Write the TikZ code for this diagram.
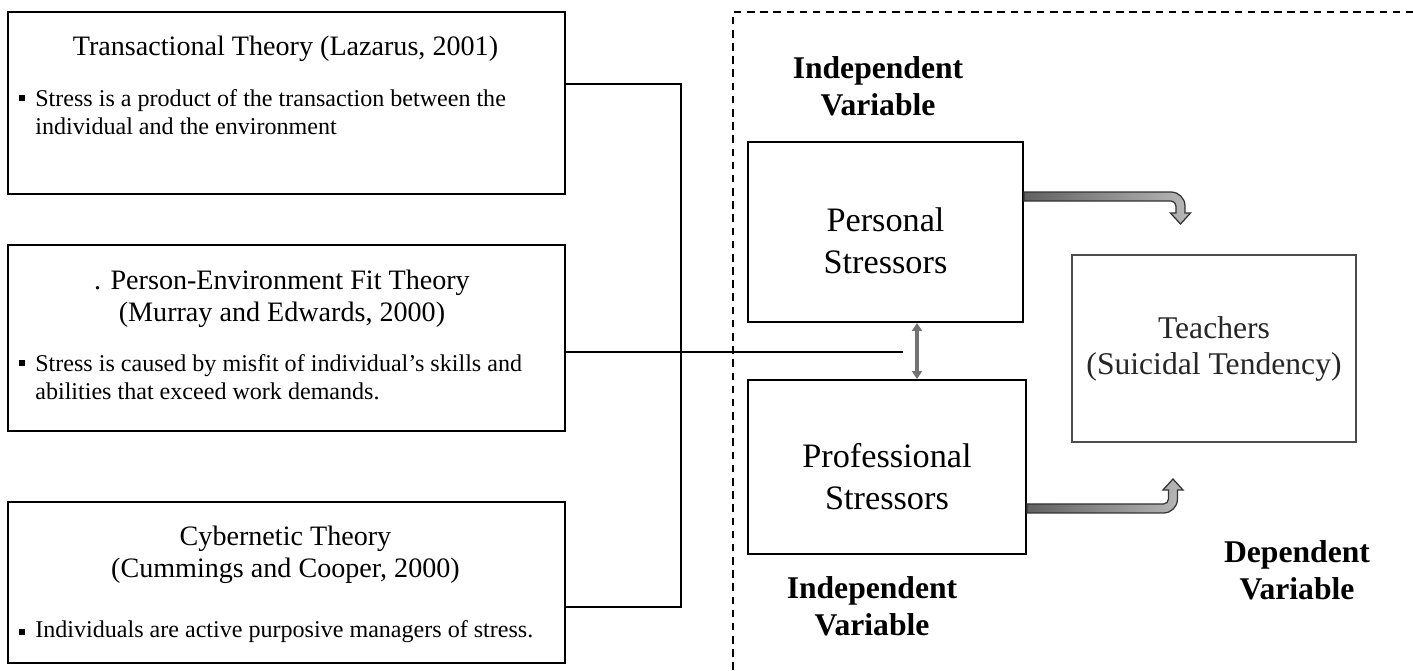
\documentclass[tikz,border=0pt]{standalone}
\usepackage{fontspec}
\setmainfont{Liberation Serif}
\usetikzlibrary{positioning, calc, arrows.meta}

\begin{document}
\begin{tikzpicture}[
        x=0.02cm, y=-0.02cm,
        every node/.style={align=center, inner sep=0pt},
        theory/.style={draw, line width=0.04cm, minimum width=11.14cm, anchor=north west},
        thead/.style={font=\fontsize{16}{18.2}\selectfont},
        tbody/.style={font=\fontsize{13.7}{15.9}\selectfont, align=left, anchor=west},
        sq/.style={fill=black, minimum size=0.12cm},
        stress/.style={draw, line width=0.04cm},
        stresstext/.style={font=\fontsize{19.5}{23.9}\selectfont},
        varlabel/.style={font=\fontsize{18}{21}\selectfont\bfseries},
        conn/.style={line width=0.04cm},
        dbl/.style={{Triangle[width=0.2cm,length=0.16cm]}-{Triangle[width=0.2cm,length=0.16cm]}, line width=0.07cm, black!55},
        fatarrow/.style={draw=black!80, line width=0.025cm, left color=black!62, right color=black!28}
    ]
    \useasboundingbox (0,0) rectangle (1413,670);

    \node[theory, minimum height=3.64cm] (tran) at (7,11) {};
    \node[thead] (tranh) at (285.5,49) {Transactional Theory (Lazarus, 2001)};
    \node[sq] (tranb) at (22,98) {};
    \node[tbody] (trans) at (35,112.5) {Stress is a product of the transaction between the\\individual and the environment};

    \node[theory, minimum height=3.72cm] (pef) at (7,244) {};
    \node[thead] (pefh) at (282,299) {. Person-Environment Fit Theory\\(Murray and Edwards, 2000)};
    \node[sq] (pefb) at (22,363) {};
    \node[tbody] (pefs) at (35,377.5) {Stress is caused by misfit of individual’s skills and\\abilities that exceed work demands.};

    \node[theory, minimum height=3.22cm] (cyb) at (7,501) {};
    \node[thead] (cybh) at (285.5,555) {Cybernetic Theory\\(Cummings and Cooper, 2000)};
    \node[sq] (cybb) at (22,632) {};
    \node[tbody] (cybs) at (35,632) {Individuals are active purposive managers of stress.};

    \draw[dash pattern=on 4.3pt off 3.2pt, line width=0.035cm] (733,670) |- (1413,12);

    \node[varlabel] (ivtop) at (878,86.5) {Independent\\Variable};
    \node[stress, minimum width=5.5cm, minimum height=3.6cm] (pers) at (885.5,232) {};
    \node[stresstext] (perst) at ($(pers.center)+(0,9)$) {Personal\\Stressors};
    \node[stress, minimum width=5.56cm, minimum height=3.48cm] (prof) at (887,467) {};
    \node[stresstext] (proft) at ($(prof.center)+(0,10)$) {Professional\\Stressors};
    \node[varlabel] (ivbot) at (872,606.5) {Independent\\Variable};
    \node[draw=black!70, line width=0.04cm, minimum width=5.68cm, minimum height=3.74cm, font=\fontsize{18}{20.5}\selectfont, text=black!85] (teach) at (1214,348.5) {Teachers\\(Suicidal Tendency)};
    \node[varlabel] (dv) at (1297,570) {Dependent\\Variable};

    \coordinate (brk1) at (681,84);
    \coordinate (brk3) at (681,607);
    \draw[conn] (tran.east |- brk1) -- (brk1) -- (brk3) -- (cyb.east |- brk3);
    \coordinate (lnk) at (903,352);
    \draw[conn] (pef.east |- lnk) -- (lnk);
    \coordinate (dax) at (917,0);
    \draw[dbl] (dax |- pers.south) -- (dax |- prof.north);

    \coordinate (p1) at ($(pers.north east)+(0,51)$);
    \path[fatarrow] (p1) -- ++(147,0) to[out=0,in=90] ++(14,14) -- ++(0,7) -- ++(5.5,0) -- ++(-10,11) -- ++(-10,-11) -- ++(5.5,0) -- ++(0,-7) to[out=90,in=0] ++(-5,-5) -- ++(-147,0) -- cycle;
    \coordinate (p2) at ($(prof.south east)+(0,-42)$);
    \path[fatarrow] (p2) -- ++(136.5,0) to[out=0,in=-90] ++(14,-14) -- ++(0,-9) -- ++(5.5,0) -- ++(-10,-11) -- ++(-10,11) -- ++(5.5,0) -- ++(0,9) to[out=-90,in=0] ++(-5,5) -- ++(-136.5,0) -- cycle;
\end{tikzpicture}
\end{document}
